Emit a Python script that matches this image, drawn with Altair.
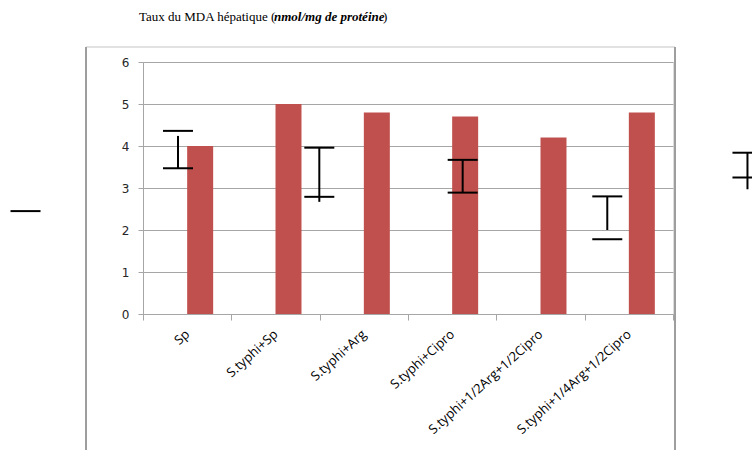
import altair as alt
import pandas as pd

# ---- data ----
categories = ["Sp", "S.typhi+Sp", "S.typhi+Arg", "S.typhi+Cipro",
              "S.typhi+1/2Arg+1/2Cipro", "S.typhi+1/4Arg+1/2Cipro"]
mda_values = [4.0, 5.0, 4.8, 4.7, 4.2, 4.8]
series_names = ["MDA"] * 6

# error bars (x in category units, drawn off the bars as in the original)
err_x = [-1.33, 0.396, 1.996, 3.619, 5.256, 6.843]
cap_hi = [None, 4.36, 3.96, 3.67, 2.80, 3.84]
cap_lo = [2.45, 3.47, 2.79, 2.89, 1.78, 3.25]
line_top = [None, 4.24, 3.96, 3.67, 2.80, 3.84]
line_bot = [None, 3.47, 2.67, 2.89, 2.00, 2.97]

title_parts = ["Taux du MDA hépatique (", "nmol/mg de protéine", ")"]
y_ticks = [0, 1, 2, 3, 4, 5, 6]

bar_df = pd.DataFrame({"cat": categories, "val": mda_values, "series": series_names})
err_df = pd.DataFrame({"ex": err_x, "hi": cap_hi, "lo": cap_lo,
                       "top": line_top, "bot": line_bot})
one = pd.DataFrame({"k": [0]})

GRID = "#A6A6A6"

y_axis = alt.Axis(values=y_ticks, title=None, grid=True, gridColor=GRID,
                  domainColor=GRID, tickColor=GRID, tickSize=5,
                  labelFont="DejaVu Sans", labelFontSize=12, labelColor="#262626",
                  labelPadding=9)
y_scale = alt.Scale(domain=[0, 6], nice=False)

bars = alt.Chart(bar_df).mark_bar(color="#C0504D").encode(
    x=alt.X("cat:N", sort=categories,
            scale=alt.Scale(paddingInner=0, paddingOuter=0),
            axis=alt.Axis(title=None, labelAngle=-42, tickBand="extent", grid=False,
                          domainColor=GRID, tickColor=GRID, tickSize=6,
                          labelFont="Open Sans", labelFontSize=13, labelColor="#000000",
                          labelAlign="right", labelBaseline="middle",
                          labelPadding=12, labelOverlap=False, labelLimit=400)),
    xOffset=alt.XOffset("series:N",
                        scale=alt.Scale(domain=["blank", "MDA"], paddingInner=0,
                                        paddingOuter=0.699)),
    y=alt.Y("val:Q", scale=y_scale, axis=y_axis),
)

ex_enc = alt.X("ex:Q", scale=alt.Scale(domain=[0, 6], nice=False, zero=False), axis=None)

caps_hi = alt.Chart(err_df).mark_tick(orient="horizontal", size=30, thickness=2,
                                      color="black", opacity=1).encode(
    x=ex_enc, y=alt.Y("hi:Q", axis=y_axis))
caps_lo = alt.Chart(err_df).mark_tick(orient="horizontal", size=30, thickness=2,
                                      color="black", opacity=1).encode(
    x=ex_enc, y=alt.Y("lo:Q", axis=y_axis))
stems = alt.Chart(err_df).mark_rule(color="black", strokeWidth=2).encode(
    x=ex_enc, y=alt.Y("top:Q", axis=y_axis), y2="bot:Q")

# outer frame
frame_top = alt.Chart(one).mark_rule(color="#D9D9D9", strokeWidth=1.5).encode(
    x=alt.value(-57), x2=alt.value(532), y=alt.value(-15))
frame_left = alt.Chart(one).mark_rule(color="#9E9E9E", strokeWidth=2).encode(
    x=alt.value(-57), y=alt.value(-15), y2=alt.value(400))
frame_right = alt.Chart(one).mark_rule(color="#9E9E9E", strokeWidth=2).encode(
    x=alt.value(532), y=alt.value(-15), y2=alt.value(400))

# title made of three text pieces
t1 = alt.Chart(pd.DataFrame({"t": [title_parts[0]]})).mark_text(
    font="Liberation Serif", fontSize=13, align="left", baseline="alphabetic",
    color="black").encode(x=alt.value(-4), y=alt.value(-41), text="t:N")
t2 = alt.Chart(pd.DataFrame({"t": [title_parts[1]]})).mark_text(
    font="Liberation Serif", fontSize=13, fontWeight="bold", fontStyle="italic",
    align="left", baseline="alphabetic", color="black").encode(
    x=alt.value(131), y=alt.value(-41), text="t:N")
t3 = alt.Chart(pd.DataFrame({"t": [title_parts[2]]})).mark_text(
    font="Liberation Serif", fontSize=13, align="left", baseline="alphabetic",
    color="black").encode(x=alt.value(240), y=alt.value(-41), text="t:N")

chart = alt.layer(
    frame_top, frame_left, frame_right, bars, stems, caps_hi, caps_lo, t1, t2, t3
).resolve_scale(x="independent").properties(
    width=530, height=252,
    autosize=alt.AutoSizeParams(type="none"),
    padding={"left": 143, "top": 62, "right": 79, "bottom": 136},
).configure_view(stroke=None).configure(background="white")

chart.save("out.html", embed_options={"renderer": "svg", "actions": False})
